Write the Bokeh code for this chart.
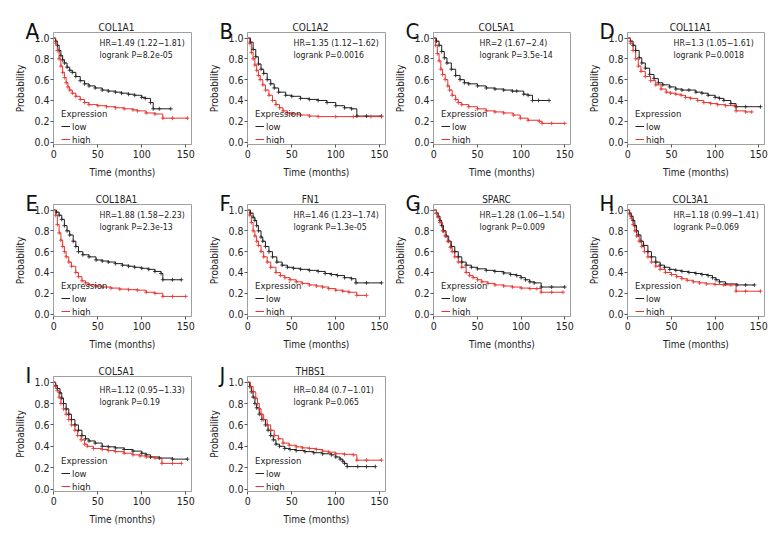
from bokeh.plotting import figure
from bokeh.layouts import column, row
from bokeh.models import Label, Legend, LegendItem, FixedTicker, PrintfTickFormatter, Range1d
from bokeh.core.properties import value
from bokeh.embed import file_html
from bokeh.resources import INLINE

FONT = "DejaVu Sans Condensed, Liberation Sans Narrow, Roboto, sans-serif"
BLACK = "#222222"
RED = "#e8332e"
TXT = "#222222"

letters = ["A", "B", "C", "D", "E", "F", "G", "H", "I", "J"]
genes = ["COL1A1", "COL1A2", "COL5A1", "COL11A1", "COL18A1", "FN1", "SPARC", "COL3A1", "COL5A1", "THBS1"]
hr_labels = ["HR=1.49 (1.22\u22121.81)", "HR=1.35 (1.12\u22121.62)", "HR=2 (1.67\u22122.4)", "HR=1.3 (1.05\u22121.61)",
             "HR=1.88 (1.58\u22122.23)", "HR=1.46 (1.23\u22121.74)", "HR=1.28 (1.06\u22121.54)", "HR=1.18 (0.99\u22121.41)",
             "HR=1.12 (0.95\u22121.33)", "HR=0.84 (0.7\u22121.01)"]
p_labels = ["logrank P=8.2e-05", "logrank P=0.0016", "logrank P=3.5e-14", "logrank P=0.0018",
            "logrank P=2.3e-13", "logrank P=1.3e-05", "logrank P=0.009", "logrank P=0.069",
            "logrank P=0.19", "logrank P=0.065"]
x_ticks = [0, 50, 100, 150]
y_ticks = [0.0, 0.2, 0.4, 0.6, 0.8, 1.0]
legend_title = "Expression"
legend_labels = ["low", "high"]

# A COL1A1
a_low_t = [0, 2, 4, 6, 8, 10, 12, 15, 18, 21, 25, 30, 35, 40, 47, 55, 62, 70, 77, 85, 92, 100, 104, 110, 113, 120, 133]
a_low_s = [1.0, 0.97, 0.93, 0.88, 0.83, 0.79, 0.76, 0.72, 0.69, 0.67, 0.63, 0.59, 0.56, 0.54, 0.52, 0.50, 0.49, 0.48, 0.47, 0.46, 0.45, 0.43, 0.42, 0.38, 0.32, 0.32, 0.32]
a_high_t = [0, 2, 4, 6, 8, 10, 12, 14, 16, 18, 21, 25, 30, 35, 40, 50, 60, 70, 80, 90, 95, 105, 115, 124, 135, 152]
a_high_s = [1.0, 0.95, 0.88, 0.80, 0.73, 0.67, 0.62, 0.57, 0.53, 0.50, 0.47, 0.44, 0.41, 0.38, 0.36, 0.35, 0.34, 0.33, 0.32, 0.31, 0.30, 0.28, 0.27, 0.23, 0.23, 0.23]
# B COL1A2
b_low_t = [0, 3, 6, 9, 12, 15, 18, 22, 26, 30, 35, 43, 50, 60, 70, 80, 90, 100, 110, 118, 124, 135, 152]
b_low_s = [1.0, 0.96, 0.89, 0.82, 0.75, 0.70, 0.66, 0.60, 0.56, 0.52, 0.48, 0.45, 0.44, 0.42, 0.41, 0.40, 0.38, 0.35, 0.33, 0.32, 0.25, 0.25, 0.25]
b_high_t = [0, 2, 4, 6, 8, 10, 12, 14, 17, 20, 24, 28, 32, 36, 40, 45, 50, 60, 70, 80, 100, 120, 140, 152]
b_high_s = [1.0, 0.95, 0.86, 0.80, 0.74, 0.69, 0.64, 0.60, 0.55, 0.50, 0.45, 0.40, 0.36, 0.33, 0.30, 0.28, 0.27, 0.26, 0.25, 0.245, 0.245, 0.245, 0.245, 0.245]
# C COL5A1
c_low_t = [0, 3, 6, 9, 12, 15, 20, 25, 30, 35, 40, 50, 60, 70, 80, 90, 95, 103, 108, 113, 120, 132]
c_low_s = [1.0, 0.97, 0.93, 0.87, 0.81, 0.76, 0.70, 0.64, 0.60, 0.57, 0.56, 0.54, 0.52, 0.51, 0.50, 0.49, 0.49, 0.46, 0.45, 0.40, 0.40, 0.40]
c_high_t = [0, 2, 4, 6, 8, 10, 13, 16, 18, 21, 25, 28, 32, 40, 50, 60, 70, 80, 91, 99, 108, 121, 124, 135, 150]
c_high_s = [1.0, 0.93, 0.85, 0.78, 0.70, 0.65, 0.60, 0.54, 0.50, 0.45, 0.41, 0.38, 0.36, 0.34, 0.32, 0.30, 0.29, 0.28, 0.26, 0.23, 0.21, 0.20, 0.18, 0.18, 0.18]
# D COL11A1
d_low_t = [0, 3, 6, 9, 13, 16, 20, 25, 30, 35, 40, 48, 55, 62, 70, 78, 85, 92, 100, 105, 110, 118, 124, 135, 152]
d_low_s = [1.0, 0.97, 0.93, 0.88, 0.81, 0.76, 0.71, 0.65, 0.61, 0.57, 0.55, 0.53, 0.51, 0.50, 0.50, 0.48, 0.47, 0.45, 0.43, 0.42, 0.40, 0.37, 0.34, 0.34, 0.34]
d_high_t = [0, 3, 6, 9, 12, 15, 20, 26, 32, 38, 44, 49, 55, 61, 66, 72, 80, 87, 95, 103, 112, 122, 124, 135, 142]
d_high_s = [1.0, 0.95, 0.88, 0.80, 0.73, 0.68, 0.63, 0.59, 0.55, 0.51, 0.48, 0.47, 0.46, 0.45, 0.43, 0.42, 0.40, 0.38, 0.37, 0.36, 0.35, 0.35, 0.30, 0.29, 0.29]
# E COL18A1
e_low_t = [0, 3, 6, 9, 12, 15, 18, 22, 25, 28, 33, 40, 48, 55, 62, 70, 78, 85, 92, 100, 108, 115, 122, 124, 135, 145]
e_low_s = [1.0, 0.98, 0.95, 0.91, 0.85, 0.80, 0.76, 0.70, 0.65, 0.60, 0.57, 0.55, 0.52, 0.51, 0.50, 0.485, 0.47, 0.46, 0.45, 0.44, 0.43, 0.41, 0.39, 0.33, 0.33, 0.33]
e_high_t = [0, 2, 4, 6, 8, 10, 12, 14, 17, 20, 25, 28, 32, 36, 40, 48, 55, 65, 75, 85, 95, 105, 115, 124, 135, 150]
e_high_s = [1.0, 0.95, 0.86, 0.78, 0.71, 0.65, 0.60, 0.55, 0.50, 0.46, 0.40, 0.36, 0.32, 0.30, 0.28, 0.27, 0.26, 0.25, 0.24, 0.235, 0.23, 0.21, 0.20, 0.17, 0.17, 0.17]
# F FN1
f_low_t = [0, 3, 6, 8, 10, 12, 15, 17, 20, 24, 28, 33, 39, 45, 52, 60, 70, 80, 88, 95, 102, 110, 118, 123, 135, 152]
f_low_s = [1.0, 0.97, 0.93, 0.90, 0.85, 0.80, 0.74, 0.70, 0.65, 0.60, 0.55, 0.50, 0.47, 0.45, 0.44, 0.43, 0.42, 0.41, 0.39, 0.38, 0.37, 0.35, 0.34, 0.30, 0.30, 0.30]
f_high_t = [0, 2, 4, 6, 8, 10, 12, 15, 18, 22, 26, 32, 37, 42, 48, 55, 62, 70, 78, 85, 92, 100, 108, 115, 124, 135]
f_high_s = [1.0, 0.95, 0.88, 0.80, 0.75, 0.70, 0.66, 0.60, 0.55, 0.50, 0.45, 0.40, 0.37, 0.35, 0.33, 0.31, 0.295, 0.28, 0.27, 0.26, 0.245, 0.23, 0.22, 0.21, 0.18, 0.18]
# G SPARC
g_low_t = [0, 3, 5, 7, 9, 11, 14, 17, 20, 24, 28, 32, 37, 43, 50, 60, 70, 80, 88, 95, 100, 105, 110, 115, 123, 135, 150]
g_low_s = [1.0, 0.97, 0.94, 0.90, 0.85, 0.80, 0.75, 0.70, 0.65, 0.60, 0.55, 0.50, 0.47, 0.45, 0.435, 0.42, 0.41, 0.395, 0.38, 0.37, 0.35, 0.33, 0.31, 0.30, 0.26, 0.26, 0.26]
g_high_t = [0, 3, 5, 7, 10, 13, 16, 19, 21, 24, 28, 32, 37, 41, 45, 50, 55, 62, 70, 80, 90, 100, 110, 118, 123, 135, 148]
g_high_s = [1.0, 0.97, 0.93, 0.88, 0.80, 0.75, 0.70, 0.64, 0.60, 0.55, 0.50, 0.45, 0.40, 0.37, 0.35, 0.33, 0.31, 0.295, 0.28, 0.27, 0.26, 0.25, 0.245, 0.245, 0.21, 0.21, 0.21]
# H COL3A1
h_low_t = [0, 2, 4, 6, 8, 10, 12, 15, 18, 23, 27, 32, 37, 42, 48, 55, 62, 70, 78, 85, 92, 97, 101, 105, 112, 125, 135, 145]
h_low_s = [1.0, 0.97, 0.94, 0.90, 0.85, 0.80, 0.76, 0.70, 0.66, 0.60, 0.55, 0.50, 0.47, 0.45, 0.43, 0.42, 0.41, 0.40, 0.39, 0.38, 0.37, 0.35, 0.33, 0.31, 0.29, 0.28, 0.28, 0.28]
h_high_t = [0, 2, 4, 6, 8, 10, 13, 16, 19, 23, 27, 32, 37, 43, 50, 56, 62, 68, 75, 82, 90, 100, 110, 118, 124, 135, 152]
h_high_s = [1.0, 0.96, 0.92, 0.86, 0.80, 0.75, 0.70, 0.65, 0.60, 0.55, 0.50, 0.46, 0.43, 0.40, 0.38, 0.36, 0.34, 0.325, 0.31, 0.30, 0.29, 0.285, 0.28, 0.28, 0.22, 0.22, 0.22]
# I COL5A1
i_low_t = [0, 2, 4, 7, 9, 11, 14, 17, 20, 24, 28, 32, 36, 40, 47, 55, 62, 70, 80, 90, 100, 105, 110, 120, 135, 152]
i_low_s = [1.0, 0.97, 0.94, 0.90, 0.85, 0.80, 0.75, 0.70, 0.65, 0.60, 0.55, 0.50, 0.47, 0.45, 0.43, 0.40, 0.395, 0.385, 0.37, 0.355, 0.335, 0.32, 0.30, 0.29, 0.28, 0.28]
i_high_t = [0, 2, 4, 6, 8, 11, 14, 17, 20, 24, 27, 31, 35, 38, 45, 55, 62, 70, 80, 90, 98, 105, 115, 123, 135, 145]
i_high_s = [1.0, 0.96, 0.92, 0.86, 0.80, 0.75, 0.70, 0.65, 0.60, 0.55, 0.50, 0.46, 0.42, 0.40, 0.38, 0.37, 0.36, 0.35, 0.335, 0.32, 0.31, 0.30, 0.29, 0.24, 0.24, 0.24]
# J THBS1
j_low_t = [0, 2, 4, 6, 8, 10, 13, 16, 20, 23, 26, 29, 32, 36, 42, 48, 55, 65, 75, 85, 95, 100, 105, 108, 110, 113, 125, 135, 145]
j_low_s = [1.0, 0.96, 0.91, 0.86, 0.80, 0.76, 0.70, 0.65, 0.60, 0.55, 0.50, 0.46, 0.42, 0.40, 0.38, 0.37, 0.36, 0.35, 0.34, 0.33, 0.32, 0.30, 0.28, 0.26, 0.24, 0.21, 0.21, 0.21, 0.21]
j_high_t = [0, 3, 6, 9, 11, 13, 15, 18, 22, 26, 30, 35, 40, 47, 55, 62, 70, 78, 85, 92, 100, 110, 120, 124, 135, 152]
j_high_s = [1.0, 0.96, 0.91, 0.85, 0.80, 0.75, 0.70, 0.65, 0.60, 0.55, 0.50, 0.47, 0.43, 0.41, 0.395, 0.385, 0.38, 0.37, 0.355, 0.345, 0.33, 0.325, 0.32, 0.27, 0.27, 0.27]

curves = [
    (a_low_t, a_low_s, a_high_t, a_high_s),
    (b_low_t, b_low_s, b_high_t, b_high_s),
    (c_low_t, c_low_s, c_high_t, c_high_s),
    (d_low_t, d_low_s, d_high_t, d_high_s),
    (e_low_t, e_low_s, e_high_t, e_high_s),
    (f_low_t, f_low_s, f_high_t, f_high_s),
    (g_low_t, g_low_s, g_high_t, g_high_s),
    (h_low_t, h_low_s, h_high_t, h_high_s),
    (i_low_t, i_low_s, i_high_t, i_high_s),
    (j_low_t, j_low_s, j_high_t, j_high_s),
]

X0, X1 = -0.4, 156.6
Y0, Y1 = -0.023, 1.053
COL_W = [202, 186, 194, 186]
COL_L = [53, 45, 45, 45]
COL_R = [11, 3, 12, 4]
ROW_H = [180, 172, 178]
ROW_T = [32, 24, 24]
ROW_B = [33, 33, 39]
FRAME_H = 115


def make_panel(i):
    r, c = divmod(i, 4)
    p = figure(width=COL_W[c], height=ROW_H[r], output_backend="svg", toolbar_location=None,
               x_range=Range1d(X0, X1), y_range=Range1d(Y0, Y1),
               min_border_left=COL_L[c], min_border_right=COL_R[c],
               min_border_top=ROW_T[r], min_border_bottom=ROW_B[r])
    p.xgrid.visible = False
    p.ygrid.visible = False
    p.outline_line_color = "#a0a0a0"
    p.outline_line_width = 1
    p.background_fill_color = "white"
    p.border_fill_color = "white"

    lt, ls, ht, hs = curves[i]
    lo = p.step(lt, ls, mode="after", line_color=BLACK, line_width=1)
    hi = p.step(ht, hs, mode="after", line_color=RED, line_width=1)
    p.scatter(lt[1:], ls[1:], marker="cross", size=4, line_color=BLACK, line_width=0.8)
    p.scatter(ht[1:], hs[1:], marker="cross", size=4, line_color=RED, line_width=0.8)

    for ax in (p.xaxis[0], p.yaxis[0]):
        ax.axis_line_color = "#a0a0a0"
        ax.major_tick_line_color = "#555555"
        ax.major_tick_in = 0
        ax.major_tick_out = 3
        ax.minor_tick_line_color = None
        ax.major_label_text_font = FONT
        ax.major_label_text_font_size = "10.5px"
        ax.major_label_text_color = TXT
        ax.axis_label_text_font = FONT
        ax.axis_label_text_font_style = "normal"
        ax.axis_label_text_color = TXT
        ax.axis_label_text_font_size = "10px"
    p.xaxis.ticker = FixedTicker(ticks=x_ticks)
    p.yaxis.ticker = FixedTicker(ticks=y_ticks)
    p.yaxis.formatter = PrintfTickFormatter(format="%.1f")
    p.xaxis.axis_label = "Time (months)"
    p.yaxis.axis_label = "Probability"
    p.xaxis.major_label_standoff = 2
    p.yaxis.major_label_standoff = 1
    p.xaxis.axis_label_standoff = 6
    p.yaxis.axis_label_standoff = 5

    legend = Legend(items=[LegendItem(label=legend_labels[0], renderers=[lo]),
                           LegendItem(label=legend_labels[1], renderers=[hi])],
                    title=legend_title, location=(8, -1))
    legend.title_text_font = FONT
    legend.title_text_font_size = "9.5px"
    legend.title_text_font_style = "normal"
    legend.title_text_color = TXT
    legend.title_standoff = 1
    legend.label_text_font = FONT
    legend.label_text_font_size = "9.5px"
    legend.label_text_color = TXT
    legend.label_height = 12
    legend.label_standoff = 2
    legend.glyph_width = 9
    legend.glyph_height = 12
    legend.spacing = 1
    legend.padding = 0
    legend.margin = 0
    legend.border_line_alpha = 0
    legend.background_fill_alpha = 0
    p.add_layout(legend)

    # panel letter and gene name above the frame (overlay level: not clipped to the frame)
    p.text(x=[X0], y=[Y1], text=[letters[i]], x_offset=-28, y_offset=-1,
           text_font=value(FONT), text_font_size="22px", text_color="#111111",
           text_baseline="alphabetic", text_align="left", level="overlay")
    p.text(x=[X0], y=[Y1], text=[genes[i]], x_offset=63, y_offset=-5,
           text_font=value(FONT), text_font_size="10px", text_color=TXT,
           text_baseline="alphabetic", text_align="center", level="overlay")

    p.add_layout(Label(x=46, y=FRAME_H - 13.5, x_units="screen", y_units="screen", text=hr_labels[i],
                       text_font=FONT, text_font_size="8.7px", text_color=TXT,
                       text_baseline="alphabetic", text_align="left"))
    p.add_layout(Label(x=46, y=FRAME_H - 25, x_units="screen", y_units="screen", text=p_labels[i],
                       text_font=FONT, text_font_size="8.7px", text_color=TXT,
                       text_baseline="alphabetic", text_align="left"))
    return p


panels = [make_panel(i) for i in range(10)]
layout = column(row(*panels[0:4], spacing=0), row(*panels[4:8], spacing=0),
                row(*panels[8:10], spacing=0), spacing=0)

open("out.html", "w").write(file_html(layout, INLINE))
